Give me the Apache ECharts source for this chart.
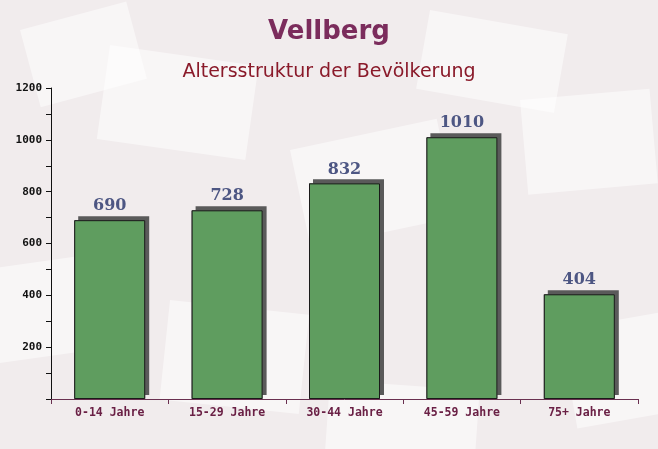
<!DOCTYPE html>
<html><head><meta charset="utf-8">
<script src="https://cdn.jsdelivr.net/npm/echarts@6/dist/echarts.min.js"></script>
<style>html,body{margin:0;padding:0;background:#f3efef;}#c{width:658px;height:449px;}</style>
</head><body><div id="c"></div>
<script>
const categories = ['0-14 Jahre','15-29 Jahre','30-44 Jahre','45-59 Jahre','75+ Jahre'];
const values = [690, 728, 832, 1010, 404];
const yTicks = [0, 200, 400, 600, 800, 1000, 1200];

function env(x, y, w, h, rot) {
  return {type: 'rect', x: x, y: y, rotation: rot * Math.PI / 180, z: -10, silent: true,
    shape: {width: w, height: h}, style: {fill: 'rgba(255,255,255,0.5)'}};
}

const chart = echarts.init(document.getElementById('c'));
chart.setOption({
  backgroundColor: '#f1eced',
  animation: false,
  graphic: [
    env(110, 45, 150, 95, -8), env(290, 150, 150, 100, 12), env(520, 100, 130, 95, 5),
    env(430, 10, 140, 80, -10), env(-20, 270, 120, 95, 8), env(170, 300, 140, 100, -6),
    env(560, 330, 120, 100, 10), env(330, 380, 150, 90, -4), env(20, 30, 110, 80, 15)
  ],
  title: [
    {text: 'Vellberg', left: 'center', top: 14,
     textStyle: {fontFamily: 'DejaVu Sans', fontWeight: 'bold', fontSize: 26, color: '#7b2c5c'}},
    {text: 'Altersstruktur der Bevölkerung', left: 'center', top: 58,
     textStyle: {fontFamily: 'DejaVu Sans', fontWeight: 'normal', fontSize: 19, color: '#8a1a2a'}}
  ],
  grid: {left: 51, right: 20, top: 88, bottom: 50},
  xAxis: {
    type: 'category', data: categories,
    axisLine: {lineStyle: {color: '#6a3050', width: 1}},
    axisTick: {show: true, length: 5, lineStyle: {color: '#6a3050'}},
    axisLabel: {fontFamily: 'DejaVu Sans Mono', fontWeight: 'bold', fontSize: 11.5, color: '#6a2045', margin: 8}
  },
  yAxis: {
    type: 'value', min: yTicks[0], max: yTicks[yTicks.length-1], interval: 200,
    axisLine: {show: true, lineStyle: {color: '#111', width: 1}},
    axisTick: {show: true, length: 5, lineStyle: {color: '#111'}},
    minorTick: {show: true, splitNumber: 2, length: 5, lineStyle: {color: '#111'}},
    splitLine: {show: false},
    axisLabel: {fontFamily: 'DejaVu Sans Mono', fontWeight: 'bold', fontSize: 11, color: '#111', margin: 9,
      formatter: v => v === 0 ? '' : String(v)}
  },
  series: [{
    type: 'bar', data: values, barWidth: 71, z: 1, silent: true,
    itemStyle: {color: '#5f5f5f',
      shadowColor: 'rgba(90,90,90,1)', shadowOffsetX: 4, shadowOffsetY: -4, shadowBlur: 0}
  }, {
    type: 'bar', data: values, barWidth: 71, barGap: '-100%', z: 2,
    itemStyle: {color: '#5f9d5f', borderColor: '#1a1a1a', borderWidth: 1},
    label: {show: true, position: 'top', distance: 6,
      fontFamily: 'DejaVu Serif', fontWeight: 'bold', fontSize: 16, color: '#4d5683'}
  }]
});
</script></body></html>
